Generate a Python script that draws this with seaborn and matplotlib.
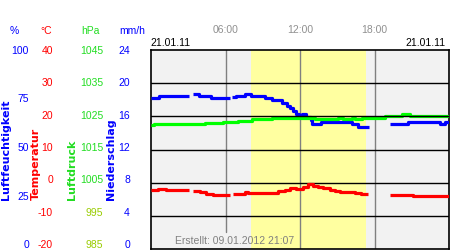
import numpy as np
import pandas as pd
import matplotlib
matplotlib.use("Agg")
import matplotlib.pyplot as plt
import matplotlib.transforms as mtransforms
import seaborn as sns

# ---------------- data ----------------
# humidity (%), step values starting at given hour; NaN = gap starts
hum_t = [0.0, 0.64, 3.06, 3.38, 3.87, 4.83, 6.40, 6.52, 6.85, 7.57, 8.05, 9.18,
         9.74, 10.55, 10.95, 11.19, 11.43, 11.68, 11.92, 12.16, 12.48, 12.89,
         12.97, 13.69, 16.19, 16.67, 17.56, 19.25, 20.70, 23.27, 23.68]
hum_v = [75.7, 76.7, np.nan, 77.7, 76.7, 75.7, np.nan, 76.2, 76.7, 77.7, 76.7, 75.7,
         74.7, 73.2, 72.0, 70.7, 69.3, 68.0, 67.0, 67.7, 66.5, 64.8,
         62.7, 63.7, 62.7, 61.5, np.nan, 62.7, 63.7, 62.7, 63.7]

# temperature (°C)
temp_t = [0.0, 0.56, 1.2, 3.06, 3.38, 3.95, 4.43, 4.99, 6.35, 6.6, 7.57, 7.81,
          10.23, 10.79, 11.19, 11.68, 12.24, 12.64, 13.05, 13.45, 13.85, 14.42,
          14.82, 15.22, 16.43, 16.91, 17.48, 19.25, 21.1]
temp_v = [-2.2, -1.9, -2.2, np.nan, -2.5, -2.9, -3.4, -3.8, np.nan, -3.3, -2.8, -3.0,
          -2.6, -2.2, -1.7, -1.9, -1.2, -0.4, -1.0, -1.3, -1.7, -2.2,
          -2.5, -2.7, -3.0, -3.4, np.nan, -3.8, -4.1]

# pressure (hPa)
pres_t = [0.0, 0.24, 4.35, 5.8, 7.0, 8.13, 8.6, 9.74, 13.2, 15.1, 15.5, 16.2,
          16.4, 17.0, 18.85, 20.2, 20.86]
pres_v = [1022.4, 1022.7, 1023.1, 1023.4, 1023.7, 1024.1, 1024.3, 1024.6, 1024.2,
          1024.6, 1024.2, 1024.6, 1024.2, 1024.6, 1025.2, 1025.6, 1025.2]

daylight = (8.05, 17.3)
time_ticks = [6, 12, 18]
time_labels = ["06:00", "12:00", "18:00"]

hum_ticks = [0, 25, 50, 75, 100]
temp_ticks = [-20, -10, 0, 10, 20, 30, 40]
pres_ticks = [985, 995, 1005, 1015, 1025, 1035, 1045]
prec_ticks = [0, 4, 8, 12, 16, 20, 24]

date_left = "21.01.11"
date_right = "21.01.11"
created = "Erstellt: 09.01.2012 21:07"

# ---------------- style ----------------
sns.set_theme(style="white")
plt.rcParams["font.family"] = ["Liberation Sans", "DejaVu Sans"]

BLUE = "#0000ff"
RED = "#ff0000"
GREEN = "#00ff00"
GREEN_T = "#22dd22"
OLIVE = "#99cc00"
GRAY = "#808080"

W, H = 450, 250
fig = plt.figure(figsize=(4.5, 2.5), dpi=100)
fig.patch.set_facecolor("white")


def fx(px):
    return px / W


def fy(py):
    return 1 - py / H


ax = fig.add_axes([fx(151), fy(249), fx(449) - fx(151), fy(50) - fy(249)])
ax.set_facecolor("#f2f2f2")
ax.set_xlim(0, 24)
ax.set_ylim(0, 100)
ax_t = ax.twinx()
ax_t.set_ylim(-20, 40)
ax_p = ax.twinx()
ax_p.set_ylim(985, 1045)
for a in (ax, ax_t, ax_p):
    a.set_xticks([])
    a.set_yticks([])
    a.set_xlim(0, 24)
for a in (ax_t, ax_p):
    for s in a.spines.values():
        s.set_visible(False)
    a.patch.set_visible(False)
for s in ax.spines.values():
    s.set_color("black")
    s.set_linewidth(1.2)

ax.axvspan(*daylight, color="#ffffa0", zorder=0.5, lw=0)
for v in temp_ticks[1:-1]:
    ax_t.axhline(v, color="black", lw=1.0, zorder=1)
for h in time_ticks:
    ymin = (249 - 232) / 199 if h == 6 else 0
    ax.axvline(h, ymin=ymin, color=GRAY, lw=1.0, zorder=1)


def build(times, values, end=24.0):
    rows, seg, prev = [], 0, None
    for t, v in zip(times, values):
        if np.isnan(v):
            rows.append((t, prev, seg))
            seg += 1
        else:
            rows.append((t, v, seg))
            prev = v
    rows.append((end, prev, seg))
    return pd.DataFrame(rows, columns=["t", "v", "seg"])


for axis, tt, vv, col in ((ax_p, pres_t, pres_v, GREEN),
                          (ax, hum_t, hum_v, BLUE),
                          (ax_t, temp_t, temp_v, RED)):
    df = build(tt, vv)
    sns.lineplot(data=df, x="t", y="v", units="seg", estimator=None,
                 drawstyle="steps-post", color=col, lw=2.3, ax=axis,
                 legend=False, solid_capstyle="butt", zorder=3)
    axis.set_xlabel("")
    axis.set_ylabel("")
    axis.set_xlim(0, 24)

ax.set_ylim(0, 100)
ax_t.set_ylim(-20, 40)
ax_p.set_ylim(985, 1045)
ax_p.set_zorder(ax.get_zorder() + 1)
ax_t.set_zorder(ax.get_zorder() + 2)

# ---------------- left label columns ----------------
FS = 7.5


def label_axis(xright, lo, hi, ticks, colors):
    a = fig.add_axes([fx(xright), fy(244), 0.0001, fy(50) - fy(244)])
    a.set_ylim(lo, hi)
    a.set_yticks(ticks)
    a.set_yticklabels([str(t) for t in ticks])
    a.tick_params(axis="y", length=0, pad=0, labelsize=FS)
    for lab, c in zip(a.get_yticklabels(), colors):
        lab.set_color(c)
    a.set_xticks([])
    for s in a.spines.values():
        s.set_visible(False)
    a.patch.set_visible(False)
    return a


label_axis(29, 0, 100, hum_ticks, [BLUE] * 5)
label_axis(53, -20, 40, temp_ticks, [RED] * 7)
label_axis(103, 985, 1045, pres_ticks, [OLIVE, OLIVE] + [GREEN_T] * 5)
label_axis(130, 0, 24, prec_ticks, [BLUE] * 7)

for x, txt, c in ((14, "%", BLUE), (46, "°C", RED), (90, "hPa", GREEN_T),
                  (132, "mm/h", BLUE)):
    fig.text(fx(x), fy(31), txt, ha="center", va="center", fontsize=FS, color=c)

for x, txt, c in ((6, "Luftfeuchtigkeit", BLUE), (35.5, "Temperatur", RED),
                  (71.5, "Luftdruck", GREEN_T), (111, "Niederschlag", BLUE)):
    fig.text(fx(x), fy(200), txt, rotation=90, ha="center", va="bottom",
             fontsize=8, fontweight="bold", color=c, family="DejaVu Sans")

# ---------------- top texts ----------------
trans = mtransforms.blended_transform_factory(ax.transData, fig.transFigure)
for h, lab in zip(time_ticks, time_labels):
    ax.text(h, fy(30), lab, transform=trans, ha="center", va="center",
            fontsize=FS, color="#909090")
fig.text(fx(150), fy(43), date_left, ha="left", va="center", fontsize=FS, color="black")
fig.text(fx(446), fy(43), date_right, ha="right", va="center", fontsize=FS, color="black")
fig.text(fx(175), fy(241), created, ha="left", va="center", fontsize=FS, color=GRAY)

fig.savefig("out.png", dpi=100)
